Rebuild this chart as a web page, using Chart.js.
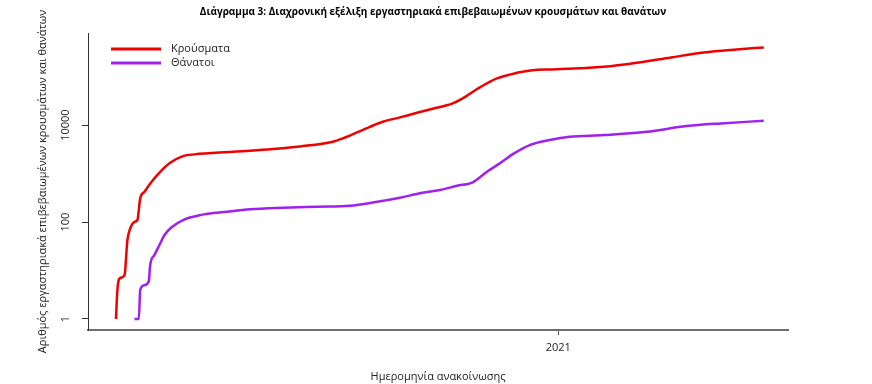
<!DOCTYPE html>
<html>
<head>
<meta charset="utf-8">
<script src="https://cdn.jsdelivr.net/npm/chart.js@4.4.0/dist/chart.umd.min.js"></script>
<style>
  html, body { margin: 0; padding: 0; background: #fff; }
</style>
</head>
<body>
<canvas id="chart" width="872" height="384"></canvas>
<script>
// days counted from 26/02/2020 (first announced case)
const caseDays = [0, 1, 3, 6, 8, 10, 13, 15, 17, 20, 25, 31, 38, 47, 55, 82, 106, 129, 152, 159, 178, 187, 199, 211, 222, 236, 243, 255, 267, 281, 292, 306, 342, 365, 389, 412, 435, 454];
const caseValues = [1, 4, 7, 8, 42, 74, 101, 110, 308, 422, 678, 1089, 1670, 2296, 2489, 2813, 3155, 3637, 4528, 5322, 9225, 11700, 14420, 17940, 21680, 28000, 35550, 59870, 91800, 119700, 136100, 140600, 159300, 192600, 248900, 315400, 363800, 400000];

const deathDays = [13, 16, 17, 20, 23, 24, 27, 31, 34, 39, 47, 59, 78, 94, 117, 141, 164, 181, 199, 213, 227, 239, 250, 260, 269, 279, 290, 304, 318, 342, 372, 400, 424, 454];
const deathValues = [1, 1, 4, 5, 6, 13, 21, 36, 54, 78, 110, 139, 163, 183, 197, 207, 217, 255, 317, 391, 457, 560, 660, 1089, 1623, 2608, 3870, 4909, 5740, 6220, 7280, 9530, 10840, 12270];

const yTicks = [1, 100, 10000];
const xTickDays = [310];          // 01/01/2021
const xTickLabels = ['2021'];

const seriesNames = ['Κρούσματα', 'Θάνατοι'];
const seriesColors = ['#f00000', '#a020f0'];

const chartTitle = 'Διάγραμμα 3: Διαχρονική εξέλιξη εργαστηριακά επιβεβαιωμένων κρουσμάτων και θανάτων';
const xTitle = 'Ημερομηνία ανακοίνωσης';
const yTitle = 'Αριθμός εργαστηριακά επιβεβαιωμένων κρουσμάτων και θανάτων';

const FONT = '"Open Sans", "DejaVu Sans", sans-serif';

const toPoints = (days, values) => days.map((d, i) => ({ x: d, y: values[i] }));

// title centred on the page, legend inside the plot (top-left)
const titlePlugin = {
    id: 'pageTitle',
    afterDraw(chart) {
        const c = chart.ctx;
        c.save();
        c.font = `bold 10px ${FONT}`;
        c.fillStyle = '#000';
        c.textAlign = 'center';
        c.textBaseline = 'middle';
        c.fillText(chartTitle, 433, 12);
        c.restore();
    }
};

const legendPlugin = {
    id: 'insideLegend',
    afterDatasetsDraw(chart) {
        const c = chart.ctx;
        const { left, top } = chart.chartArea;
        c.save();
        c.font = `11px ${FONT}`;
        c.textBaseline = 'middle';
        seriesNames.forEach((name, i) => {
            const y = top + 16 + i * 14;
            c.strokeStyle = seriesColors[i];
            c.lineWidth = 3;
            c.beginPath();
            c.moveTo(left + 23, y);
            c.lineTo(left + 73, y);
            c.stroke();
            c.fillStyle = '#222';
            c.fillText(name, left + 83, y);
        });
        c.restore();
    }
};

const ctx = document.getElementById('chart').getContext('2d');

new Chart(ctx, {
    type: 'line',
    data: {
        datasets: [{
            label: seriesNames[0],
            data: toPoints(caseDays, caseValues),
            borderColor: seriesColors[0],
            borderWidth: 2.5,
            pointRadius: 0,
            cubicInterpolationMode: 'monotone',
            fill: false
        }, {
            label: seriesNames[1],
            data: toPoints(deathDays, deathValues),
            borderColor: seriesColors[1],
            borderWidth: 2.5,
            pointRadius: 0,
            cubicInterpolationMode: 'monotone',
            fill: false
        }]
    },
    options: {
        responsive: false,
        animation: false,
        layout: { padding: { top: 33, right: 84, bottom: 0, left: 0 } },
        plugins: {
            legend: { display: false },
            tooltip: { enabled: false },
            title: { display: false }
        },
        scales: {
            x: {
                type: 'linear',
                min: -19.6,
                max: 471,
                afterFit: (scale) => { scale.height = 54; },
                afterBuildTicks: (scale) => { scale.ticks = xTickDays.map(v => ({ value: v })); },
                grid: { drawOnChartArea: false, tickLength: 5, color: '#555' },
                border: { color: '#6e6e6e', width: 2 },
                ticks: {
                    padding: 6,
                    color: '#222',
                    font: { family: FONT, size: 11 },
                    callback: (value) => xTickLabels[xTickDays.indexOf(value)]
                },
                title: {
                    display: true,
                    text: xTitle,
                    color: '#222',
                    font: { family: FONT, size: 11 },
                    padding: { top: 0, bottom: 1 }
                }
            },
            y: {
                type: 'logarithmic',
                min: 0.593,
                max: 794000,
                afterFit: (scale) => { scale.width = 88; },
                afterBuildTicks: (scale) => { scale.ticks = yTicks.map(v => ({ value: v })); },
                grid: { drawOnChartArea: false, tickLength: 6, color: '#333' },
                border: { color: '#333', width: 1 },
                ticks: {
                    minRotation: 90,
                    maxRotation: 90,
                    crossAlign: 'center',
                    padding: 0,
                    color: '#222',
                    font: { family: FONT, size: 11 },
                    callback: (value) => String(value)
                },
                title: {
                    display: true,
                    text: yTitle,
                    color: '#222',
                    font: { family: FONT, size: 11 },
                    padding: { top: 36, bottom: 0 }
                }
            }
        }
    },
    plugins: [titlePlugin, legendPlugin]
});
</script>
</body>
</html>
